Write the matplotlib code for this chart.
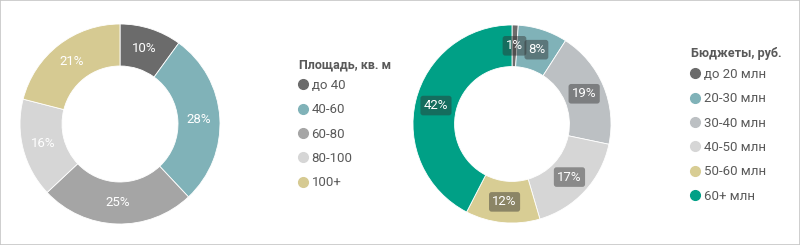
import matplotlib.pyplot as plt
from matplotlib.lines import Line2D
from matplotlib.patches import Rectangle

plt.rcParams['font.family'] = ['Roboto', 'DejaVu Sans']

# Площадь
area_title = "Площадь, кв. м"
area_labels = ["до 40", "40-60", "60-80", "80-100", "100+"]
area_values = [10, 28, 25, 16, 21]
area_colors = ["#6b6b6b", "#80b2b8", "#a5a5a5", "#d6d6d6", "#d6ca92"]

# Бюджеты
budget_title = "Бюджеты, руб."
budget_labels = ["до 20 млн", "20-30 млн", "30-40 млн", "40-50 млн", "50-60 млн", "60+ млн"]
budget_values = [1, 8, 19, 17, 12, 42]
budget_colors = ["#6b6b6b", "#80b2b8", "#bcc0c3", "#d6d6d6", "#d8cd94", "#00a086"]

W, H = 800, 245
fig = plt.figure(figsize=(W / 100, H / 100), dpi=100)
fig.patches.append(Rectangle((0, 0), 1, 1, transform=fig.transFigure,
                             fill=False, edgecolor="#c6c6c6", linewidth=1.2))


def px_axes(x, y, w, h):
    return fig.add_axes([x / W, (H - y - h) / H, w / W, h / H])


def donut(ax, values, colors, boxed):
    wedges, texts = ax.pie(values, colors=colors, startangle=90, counterclock=False,
                           radius=1, wedgeprops=dict(width=0.42, edgecolor="white", linewidth=0.6),
                           labels=[f"{v}%" for v in values], labeldistance=0.79)
    for t in texts:
        t.set_ha("center")
        t.set_va("center")
        t.set_color("white")
        t.set_fontsize(9.5)
        if boxed:
            t.set_bbox(dict(boxstyle="round,pad=0.25,rounding_size=0.2",
                            facecolor="#2f2f2f", alpha=0.45, edgecolor="none"))
    ax.set_xlim(-1.02, 1.02)
    ax.set_ylim(-1.02, 1.02)
    ax.set_aspect("equal")
    ax.axis("off")
    return wedges


ax1 = px_axes(18, 22, 204, 204)
donut(ax1, area_values, area_colors, False)

ax2 = px_axes(411, 23, 202, 202)
donut(ax2, budget_values, budget_colors, True)


def legend(title, labels, colors, x, ytitle, yitems):
    fig.text(x / W, 1 - ytitle / H, title, fontsize=9, fontweight="bold",
             color="#595959", ha="left", va="center")
    handles = [Line2D([], [], marker="o", linestyle="none", markersize=7,
                      markerfacecolor=c, markeredgecolor=c) for c in colors]
    fig.legend(handles, labels, loc="upper left",
               bbox_to_anchor=(x / W, 1 - yitems / H), frameon=False,
               fontsize=9.5, labelspacing=0.86,
               handlelength=0.6, handletextpad=0.35, borderaxespad=0,
               borderpad=0, alignment="left", labelcolor="#595959")


legend(area_title, area_labels, area_colors, 299, 65, 79)
legend(budget_title, budget_labels, budget_colors, 691, 54, 68)

fig.savefig("out.png", dpi=100)
